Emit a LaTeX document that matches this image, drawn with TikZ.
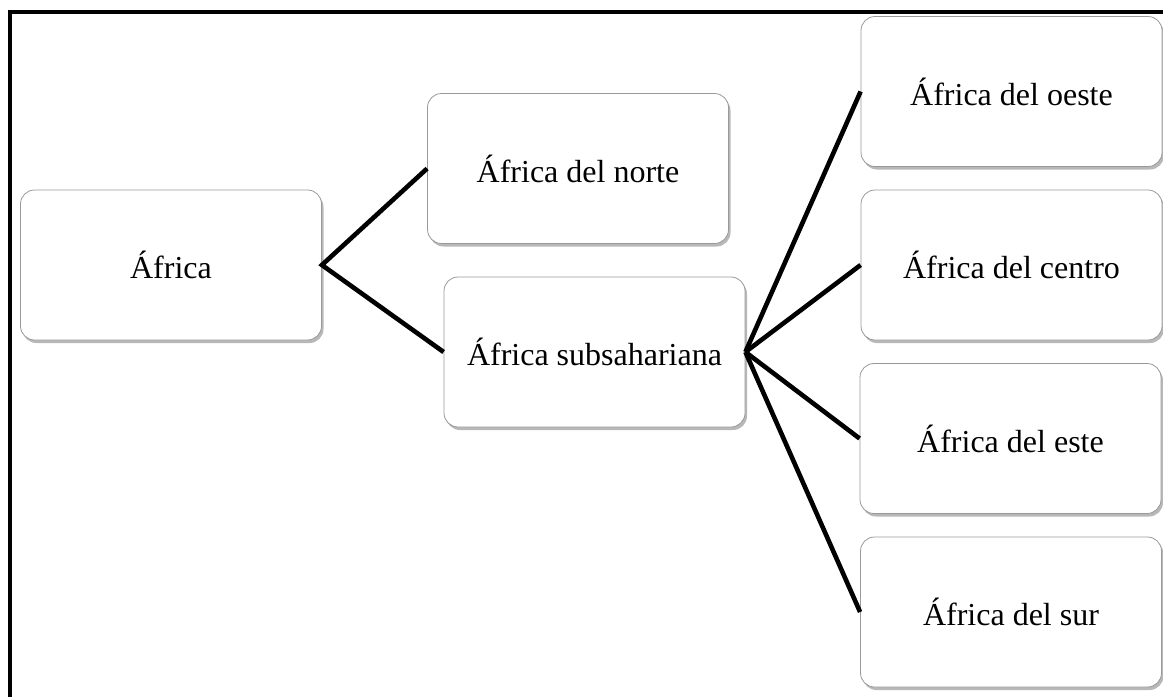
\documentclass[tikz,border=0pt]{standalone}
\usepackage{fontspec}
\setmainfont{Liberation Serif}
\usetikzlibrary{shadows}

\begin{document}
\begin{tikzpicture}[x=1pt, y=-1pt,
    regionbox/.style={draw=gray!80, line width=0.8pt, fill=white, rounded corners=14pt,
                      minimum width=301pt, minimum height=150pt, inner sep=0pt,
                      font=\fontsize{32}{38}\selectfont,
                      drop shadow={shadow xshift=2pt, shadow yshift=-3pt, fill=gray!70, opacity=0.8}},
    branch/.style={line width=4.6pt}]
  \useasboundingbox (0,0) rectangle (1163,697);
  % frame
  \draw[line width=4pt] (1163,11.5) -- (9.5,11.5) -- (9.5,697);

  \node[regionbox] (africa) at (171,265)    {África};
  \node[regionbox] (norte)  at (578,168.5)  {África del norte};
  \node[regionbox] (sub)    at (594.5,352)  {África subsahariana};
  \node[regionbox] (oeste)  at (1011.5,91.5) {África del oeste};
  \node[regionbox] (centro) at (1011.5,265) {África del centro};
  \node[regionbox] (este)   at (1010.5,438.5) {África del este};
  \node[regionbox] (sur)    at (1011,612)   {África del sur};

  \draw[branch] (norte.west) -- (africa.east) -- (sub.west);
  \foreach \r in {oeste,centro,este,sur}
    \draw[branch] (sub.east) -- (\r.west);
\end{tikzpicture}
\end{document}
